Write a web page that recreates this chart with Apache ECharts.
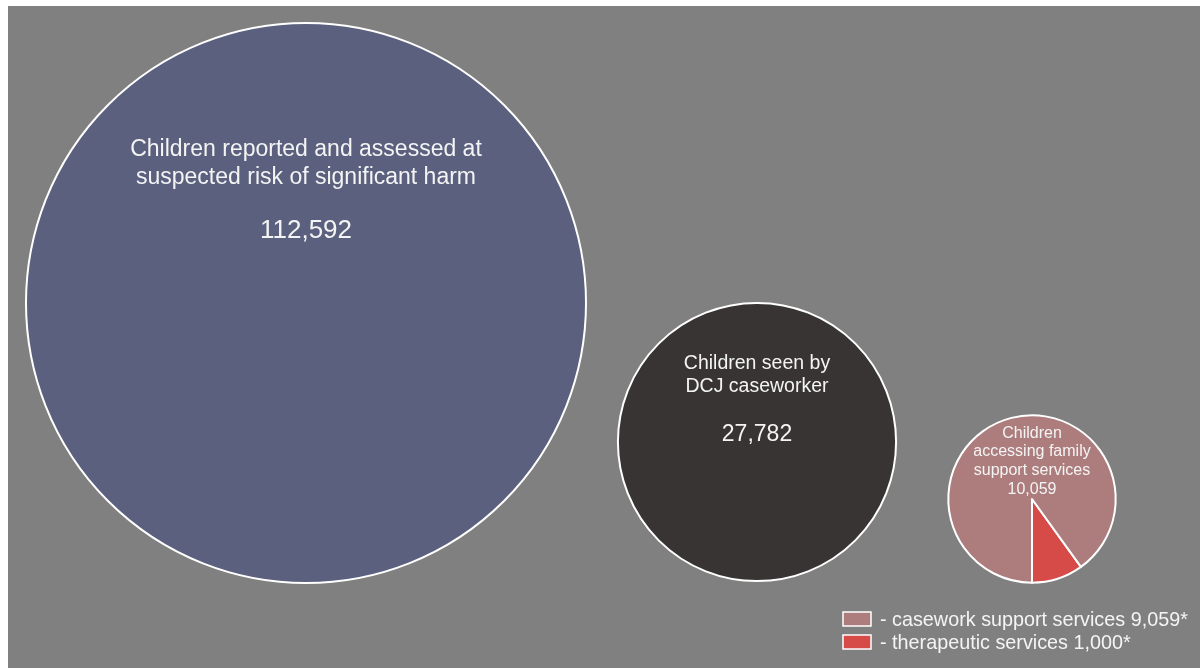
<!DOCTYPE html>
<html>
<head>
<meta charset="utf-8">
<script src="https://cdn.jsdelivr.net/npm/echarts@6/dist/echarts.min.js"></script>
<style>
  html, body { margin: 0; padding: 0; background: #fff; }
  #chart { width: 1200px; height: 668px; }
</style>
</head>
<body>
<div id="chart"></div>
<script>
// bubble values (area is proportional to the count)
const bubbleNames = [
  'Children reported and assessed at\nsuspected risk of significant harm',
  'Children seen by\nDCJ caseworker',
  'Children\naccessing family\nsupport services'
]
const bubbleValues = [112592, 27782, 10059]
const bubbleColors = ['#5a607e', '#383434', '#ad7d7e']

// split of the family support services circle
const supportNames = ['therapeutic services', 'casework support services']
const supportValues = [1000, 9059]
const supportColors = ['#d64a47', '#ad7d7e']

const fmt = (n) => n.toLocaleString('en-US')

const chart = echarts.init(document.getElementById('chart'))

// layout
const maxR = 280
const centers = [[306, 303], [757, 442], [1032, 499]]
const radiusOf = (v) => maxR * Math.sqrt(v / bubbleValues[0])
const fontFamily = '"Liberation Sans", Arial, sans-serif'
const textColor = '#f4f4f4'

const series = []
// two plain circles
for (let i = 0; i < 2; i++) {
  series.push({
    type: 'pie',
    center: centers[i],
    radius: [0, radiusOf(bubbleValues[i])],
    silent: true,
    animation: false,
    label: { show: false },
    labelLine: { show: false },
    itemStyle: { color: bubbleColors[i], borderColor: '#fff', borderWidth: 2 },
    data: [{ name: bubbleNames[i], value: bubbleValues[i] }]
  })
}
// small circle split into two slices
series.push({
  type: 'pie',
  center: centers[2],
  radius: [0, radiusOf(bubbleValues[2])],
  startAngle: -90,
  clockwise: false,
  silent: true,
  animation: false,
  label: { show: false },
  labelLine: { show: false },
  itemStyle: { borderColor: '#fff', borderWidth: 2 },
  data: supportNames.map((n, i) => ({
    name: n, value: supportValues[i], itemStyle: { color: supportColors[i] }
  }))
})

// text inside the circles
const labelCfg = [
  { dy: -167, size: 23, lh: 28, gap: 26, numSize: 26 },
  { dy: -89.5, size: 19.5, lh: 23, gap: 25, numSize: 23 },
  { dy: -75, size: 16, lh: 18.7, gap: 0, numSize: 16 }
]
const graphics = [{
  type: 'rect', shape: { x: 8, y: 6, width: 1192, height: 662 },
  style: { fill: '#808080' }, z: -10
}]
bubbleNames.forEach((name, i) => {
  const c = labelCfg[i]
  const lines = name.split('\n').length
  const x = centers[i][0], y0 = centers[i][1] + c.dy
  graphics.push({
    type: 'text', x: x, y: y0, z: 10,
    style: {
      text: name, fill: textColor, font: c.size + 'px ' + fontFamily,
      align: 'center', verticalAlign: 'top', lineHeight: c.lh
    }
  })
  graphics.push({
    type: 'text', x: x, y: y0 + lines * c.lh + c.gap, z: 10,
    style: {
      text: fmt(bubbleValues[i]), fill: textColor, font: c.numSize + 'px ' + fontFamily,
      align: 'center', verticalAlign: 'top', lineHeight: i === 2 ? c.lh : c.numSize
    }
  })
})

// legend for the split
const legendOrder = [1, 0]
legendOrder.forEach((k, j) => {
  const y = 612 + j * 23
  graphics.push({
    type: 'rect', shape: { x: 843, y: y, width: 28, height: 14 },
    style: { fill: supportColors[k], stroke: '#fff', lineWidth: 1.5 }, z: 10
  })
  graphics.push({
    type: 'text', x: 880, y: y + 9, z: 10,
    style: {
      text: '- ' + supportNames[k] + ' ' + fmt(supportValues[k]) + '*',
      fill: textColor, font: '19.8px ' + fontFamily, verticalAlign: 'middle'
    }
  })
})

chart.setOption({
  backgroundColor: '#fff',
  animation: false,
  series: series,
  graphic: graphics
})
</script>
</body>
</html>
